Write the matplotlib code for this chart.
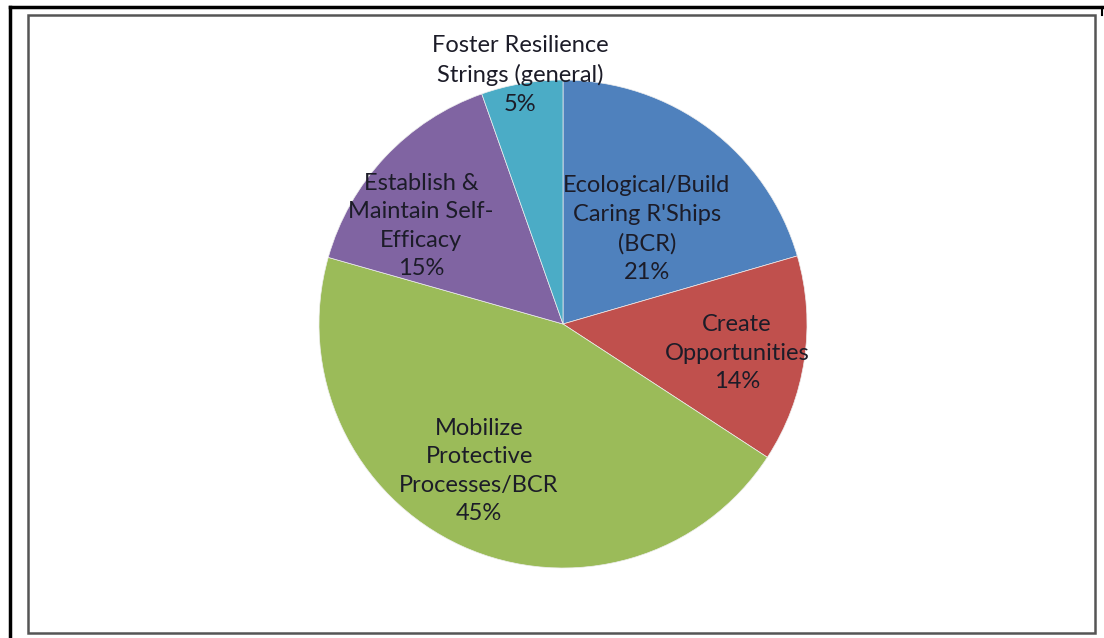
import matplotlib
matplotlib.use("Agg")
import matplotlib.pyplot as plt
from matplotlib.patches import Rectangle
import numpy as np

categories = ["Ecological/Build\nCaring R'Ships\n(BCR)",
              "Create\nOpportunities",
              "Mobilize\nProtective\nProcesses/BCR",
              "Establish &\nMaintain Self-\nEfficacy",
              "Foster Resilience\nStrings (general)"]
values = [20.5, 13.7, 45.2, 15.2, 5.4]
pct_labels = ["21%", "14%", "45%", "15%", "5%"]
colors = ["#4F81BD", "#C0504D", "#9BBB59", "#8064A2", "#4BACC6"]

# label centres in pie-radius units (layout)
label_pos = [(0.344, 0.389), (0.713, -0.119), (-0.344, -0.602),
             (-0.582, 0.402), (-0.176, 1.02)]

plt.rcParams['font.family'] = ['Lato', 'DejaVu Sans']

fig = plt.figure(figsize=(11.04, 6.38), dpi=100)
fig.patch.set_facecolor("white")

W, H = 1104, 638
def fx(x): return x / W
def fy(y): return 1 - y / H
fig.add_artist(plt.Line2D([fx(9.5), fx(9.5)], [fy(7), fy(638)], color="black", lw=2.5))
fig.add_artist(plt.Line2D([fx(9.5), fx(1102)], [fy(7), fy(7)], color="black", lw=2.5))
fig.add_artist(plt.Line2D([fx(1102), fx(1102)], [fy(7), fy(15)], color="black", lw=1.5))
fig.add_artist(Rectangle((fx(27.5), fy(632.5)), fx(1095) - fx(27.5), fy(15) - fy(632.5),
                         transform=fig.transFigure, fill=False, edgecolor="#555555", lw=1.8))

cx, cy, r = 563, 324, 244
ax = fig.add_axes([fx(cx - r), fy(cy + r), 2 * r / W, 2 * r / H])
wedges, _ = ax.pie(values, colors=colors, startangle=90, counterclock=False,
                   radius=1.0, wedgeprops=dict(edgecolor="#eeeeee", linewidth=0.5))
ax.set_xlim(-1, 1)
ax.set_ylim(-1, 1)
ax.set_aspect("auto")
ax.axis("off")

for cat, p, (lx, ly) in zip(categories, pct_labels, label_pos):
    ax.text(lx, ly, cat + "\n" + p, ha="center", va="center",
            fontsize=17, color="#1c1c28", linespacing=1.44, clip_on=False)

fig.savefig("out.png", dpi=100, facecolor="white")
